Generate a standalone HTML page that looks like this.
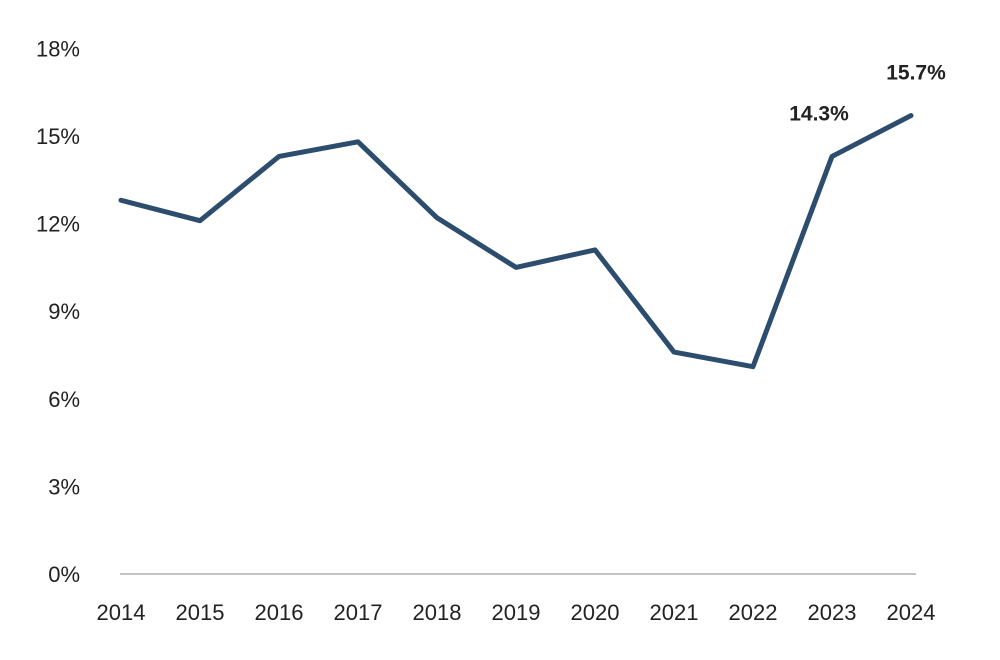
<!DOCTYPE html>
<html><head><meta charset="utf-8"><style>
html,body{margin:0;padding:0;background:#fff;}
svg{display:block;font-family:"Liberation Sans",sans-serif;}
</style></head><body>
<svg id="chart" width="1000" height="660">
<line x1="120" y1="574" x2="916" y2="574" stroke="#b0b0b0" stroke-width="1.5"/>
<g id="yt"></g>
<g id="xt"></g>
<path id="ln" fill="none" stroke="#2c4d6d" stroke-width="5" stroke-linejoin="round" stroke-linecap="round"/>
<g id="lb"></g>
</svg>
<script>
const years=["2014","2015","2016","2017","2018","2019","2020","2021","2022","2023","2024"];
const values=[12.8,12.1,14.3,14.8,12.2,10.5,11.1,7.6,7.1,14.3,15.7];
const yTicks=[0,3,6,9,12,15,18];
const labeled=[9,10];
const NS="http://www.w3.org/2000/svg";
function x(i){return 121+i*79;}
function y(v){return 574-v*29.2;}
const yt=document.getElementById('yt'),xt=document.getElementById('xt'),lb=document.getElementById('lb');
yTicks.forEach(t=>{const e=document.createElementNS(NS,'text');


e.setAttribute('x',80);e.setAttribute('y',y(t)+8);e.setAttribute('text-anchor','end');
e.setAttribute('font-size','22');e.setAttribute('fill','#222');e.textContent=t+'%';yt.appendChild(e);});
years.forEach((yr,i)=>{const e=document.createElementNS(NS,'text');


e.setAttribute('x',x(i));e.setAttribute('y',620);e.setAttribute('text-anchor','middle');
e.setAttribute('font-size','22');e.setAttribute('fill','#222');e.textContent=yr;xt.appendChild(e);});
document.getElementById('ln').setAttribute('d',values.map((v,i)=>(i?'L':'M')+x(i)+' '+y(v)).join(' '));
labeled.forEach(i=>{const e=document.createElementNS(NS,'text');


e.setAttribute('x',i===labeled[labeled.length-1]?x(i)+5:x(i)-13);e.setAttribute('y',y(values[i])-36);
e.setAttribute('text-anchor','middle');e.setAttribute('font-size','21');e.setAttribute('font-weight','bold');
e.setAttribute('fill','#222');e.textContent=values[i].toFixed(1)+'%';lb.appendChild(e);});
</script>
</body></html>
